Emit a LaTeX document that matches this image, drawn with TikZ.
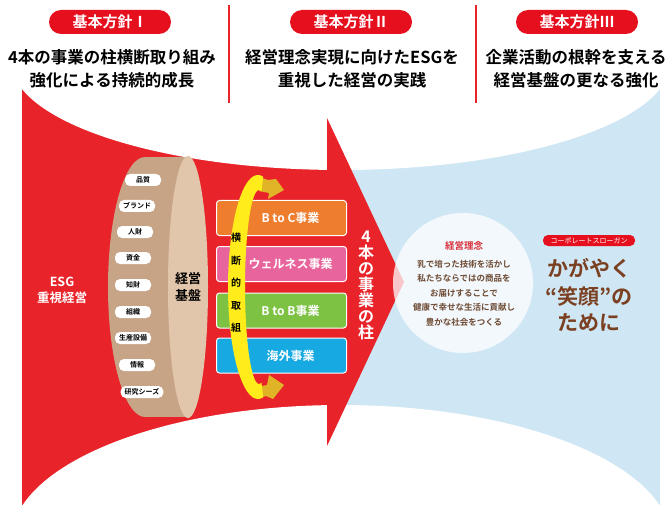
\documentclass[tikz,border=0pt]{standalone}
\usepackage{fontspec}
\setmainfont{Noto Sans CJK JP}[BoldFont={Noto Sans CJK JP Bold}]
\definecolor{myred}{HTML}{E8232A}
\definecolor{pillred}{HTML}{E60F1E}
\definecolor{skyb}{HTML}{CFE7F4}
\definecolor{tanD}{HTML}{C8A487}
\definecolor{tanL}{HTML}{E2C6AC}
\definecolor{bOrange}{HTML}{EE7D2E}
\definecolor{bPink}{HTML}{E8649C}
\definecolor{bGreen}{HTML}{7DC243}
\definecolor{bBlue}{HTML}{17A9E1}
\definecolor{yel}{HTML}{FFEC1A}
\definecolor{gold}{HTML}{E0B426}
\definecolor{brownA}{HTML}{7B4022}
\definecolor{brownB}{HTML}{6E4A33}
\definecolor{redtxt}{HTML}{D8313B}
\newcommand{\fs}[2]{\fontsize{#1}{#2}\selectfont}
\tikzset{
  headpill/.style={fill=pillred, rounded corners=12pt, minimum width=122pt, minimum height=24pt, text=white, font=\bfseries\fs{15}{17}, inner sep=0pt},
  title/.style={font=\bfseries\fs{16.5}{19}, text=black, inner sep=0pt},
  lbl/.style={fill=white, rounded corners=5pt, minimum width=36pt, minimum height=12pt, inner xsep=4pt, inner ysep=0pt, font=\bfseries\fs{7}{8}, text=black},
  biz/.style={draw=white, line width=1pt, rounded corners=3pt, minimum width=130pt, minimum height=35pt, text=white, font=\bfseries\fs{12}{14}},
  circtxt/.style={font=\bfseries\fs{8.5}{10}, text=brownB, inner sep=0pt},
  slogan/.style={font=\bfseries\fs{21}{23}, text=brownA, inner sep=0pt}
}
\begin{document}
\begin{tikzpicture}[x=1pt,y=-1pt]
\useasboundingbox (0,0) rectangle (669,505);
\fill[white] (0,0) rectangle (669,505);
% backgrounds
\fill[skyb] (327,86) rectangle (660,505);
\fill[myred] (22,86) rectangle (327.5,505);
\fill[white] (341,61) ellipse [x radius=330, y radius=109];
\fill[white] (341,541) ellipse [x radius=330, y radius=136];
% arrow head
\fill[myred] (327,118) -- (404,282) -- (327,446) -- cycle;
% circle (translucent)
\node[circle, fill=white, fill opacity=0.75, minimum size=140pt, inner sep=0pt] (rinen) at (463,283) {};

% header
\draw[myred, line width=1.6pt] (229,5) -- (229,103);
\draw[myred, line width=1.6pt] (476,5) -- (476,103);
\node[headpill] (h1) at (110,22) {基本方針Ⅰ};
\node[headpill] (h2) at (351,22) {基本方針Ⅱ};
\node[headpill] (h3) at (577,22) {基本方針Ⅲ};
\node[title] (t1a) at (112,57) {4本の事業の柱横断取り組み};
\node[title] (t1b) at (112,80) {強化による持続的成長};
\node[title] (t2a) at (352,57) {経営理念実現に向けたESGを};
\node[title] (t2b) at (352,80) {重視した経営の実践};
\node[title] (t3a) at (576,57) {企業活動の根幹を支える};
\node[title] (t3b) at (576,80) {経営基盤の更なる強化};

% ESG
\node[align=center, text=white, font=\bfseries\fs{12.5}{16}] (esg) at (62,290) {ESG\\重視経営};

% cylinder
\fill[tanD] (145,287) ellipse [x radius=37, y radius=130];
\fill[tanD] (145,157) rectangle (188,417);
\fill[tanL] (188,287) ellipse [x radius=20, y radius=131];
\node[align=center, text=black, font=\bfseries\fs{13}{17}] (kiban) at (188,287) {経営\\基盤};
\node[lbl] (l1) at (143,180) {品質};
\node[lbl] (l2) at (137,206) {ブランド};
\node[lbl] (l3) at (135,232) {人財};
\node[lbl] (l4) at (133,258) {資金};
\node[lbl] (l5) at (133,285) {知財};
\node[lbl] (l6) at (133,312) {組織};
\node[lbl] (l7) at (133,338) {生産設備};
\node[lbl] (l8) at (137,365) {情報};
\node[lbl] (l9) at (142,392) {研究シーズ};

% business boxes
\node[biz, fill=bOrange] (b1) at (281.5,218) {\hspace*{18pt}B to C事業};
\node[biz, fill=bPink] (b2) at (281.5,264) {\hspace*{18pt}ウェルネス事業};
\node[biz, fill=bGreen] (b3) at (281.5,310.5) {\hspace*{18pt}B to B事業};
\node[biz, fill=bBlue] (b4) at (281.5,355.5) {\hspace*{18pt}海外事業};

% yellow band with golden arrows
\fill[gold] (256,176) -- (268,180) -- (276,179) -- (284,190) -- (268,199) -- (269,193) -- (259,191) -- cycle;
\fill[gold] (256,399) -- (266,396) -- (273,399) -- (284,385) -- (269,375) -- (267,385) -- (257,387) -- cycle;
\fill[yel] plot[domain=80:280, samples=60, variable=\t] ({258+30*cos(\t)},{287-112*sin(\t)})
  -- plot[domain=280:80, samples=60, variable=\t] ({259+14*cos(\t)},{287-97*sin(\t)}) -- cycle;
\node[align=center, text=black, font=\bfseries\fs{10}{22.5}] (oudan) at (236,283) {横\\断\\的\\取\\組};

% 4本の事業の柱
\node[align=center, text=white, font=\bfseries\fs{16}{16}] (hashira) at (366,285) {4\\本\\の\\事\\業\\の\\柱};

% circle text
\node[font=\bfseries\fs{9.5}{11}, text=redtxt, inner sep=0pt] (rt) at (464,246) {経営理念};
\node[circtxt] (c1) at (464,264) {乳で培った技術を活かし};
\node[circtxt] (c2) at (464,278.5) {私たちならではの商品を};
\node[circtxt] (c3) at (464,293) {お届けすることで};
\node[circtxt] (c4) at (464,307.5) {健康で幸せな生活に貢献し};
\node[circtxt] (c5) at (464,322) {豊かな社会をつくる};

% slogan
\node[fill=pillred, rounded corners=5pt, minimum width=92pt, minimum height=11pt, inner sep=0pt, text=white, font=\fs{7}{8}] (sp) at (589,240.5) {コーポレートスローガン};
\node[slogan] (s1) at (589,268) {かがやく};
\node[slogan] (s2) at (589,296) {“笑顔”の};
\node[slogan] (s3) at (589,323) {ために};
\end{tikzpicture}
\end{document}
